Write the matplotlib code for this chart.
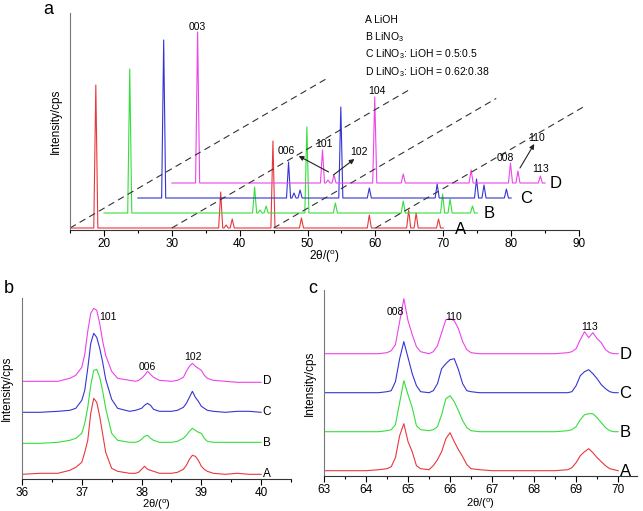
import numpy as np
import matplotlib
matplotlib.use('Agg')
import matplotlib.pyplot as plt
from matplotlib.ticker import MultipleLocator

plt.rcParams['font.family'] = ['Liberation Sans', 'DejaVu Sans']
plt.rcParams['mathtext.fontset'] = 'custom'
plt.rcParams['mathtext.rm'] = 'Liberation Sans'
plt.rcParams['mathtext.it'] = 'Liberation Sans:italic'

SAMPLES = ['A', 'B', 'C', 'D']
COLORS = ['#e8383d', '#36de3c', '#3535d4', '#ec44ec']
LEGEND = ['A LiOH', 'B LiNO$_3$', 'C LiNO$_3$: LiOH = 0.5:0.5',
          'D LiNO$_3$: LiOH = 0.62:0.38']
XLABEL = r'2θ/($^{\mathrm{o}}$)'

# (a) full patterns 15-70 deg, peaks as (2theta, height)
FULL_RANGE = (15, 70)
PEAK_POS = [18.8, 37.2, 38.0, 38.9, 44.9, 49.1, 59.1, 64.9, 66.0, 69.3]
PEAK_H = [
    [143, 36, 3, 9, 87, 10, 13, 18, 15, 9],   # A
    [144, 26, 3, 7, 86, 10, 12, 19, 14, 7],   # B
    [158, 36, 5, 8, 91, 10, 14, 19, 13, 9],   # C
    [151, 33, 3, 8, 86, 9, 13, 20, 12, 7],    # D
]
# hkl labels on the top pattern: (text, x, y)
HKL_A = [('003', 33.7, 201), ('104', 60.2, 137), ('101', 52.4, 84),
         ('006', 46.9, 77), ('102', 57.5, 76), ('008', 79.2, 70),
         ('110', 83.8, 90), ('113', 84.4, 59)]
ARROWS_A = [((53.1, 56), (48.7, 72)), ((53.8, 53), (56.9, 69)),
            ((81.3, 60), (83.4, 84))]
LETTER_X_A = [72.6, 76.7, 82.2, 86.6]
GUIDE_FROM = [15, 30, 45, 60]
GUIDE_TO = [52.8, 65, 77.8, 91]
GUIDE_SLOPE = 3.95

# (b) zoom 36-40 deg
XB = [36.0, 36.3, 36.6, 36.8, 36.9, 37.0, 37.05, 37.1, 37.15, 37.2, 37.25,
      37.3, 37.35, 37.4, 37.5, 37.6, 37.8, 37.9, 37.95, 38.0, 38.05, 38.1,
      38.15, 38.2, 38.3, 38.5, 38.6, 38.7, 38.75, 38.8, 38.85, 38.9, 38.95,
      39.0, 39.05, 39.1, 39.2, 39.4, 39.6, 39.8, 40.0]
YB_A = [0, 1, 1, 4, 7, 12, 22, 34, 61, 76, 72, 58, 40, 22, 6, 3, 1, 1, 2, 5,
        8, 5, 4, 3, 1, 1, 2, 5, 9, 15, 19, 18, 14, 8, 5, 3, 1, 0, 1, 0, 0]
YB_B = [0, 0, 1, 3, 5, 10, 20, 36, 58, 73, 74, 66, 52, 35, 10, 3, 1, 1, 2, 4,
        7, 8, 5, 3, 1, 1, 2, 5, 8, 12, 15, 13, 11, 10, 5, 2, 1, 1, 1, 1, 1]
YB_C = [0, 0, 1, 2, 4, 12, 22, 44, 69, 79, 75, 64, 50, 33, 13, 4, 1, 2, 3, 4,
        7, 9, 7, 3, 1, 1, 2, 5, 9, 15, 21, 15, 11, 6, 4, 2, 1, 0, 1, 1, 0]
YB_D = [0, 0, 0, 3, 6, 14, 27, 50, 68, 73, 71, 58, 40, 26, 10, 3, 1, 0, 1, 3,
        6, 10, 7, 4, 1, 0, 1, 4, 10, 15, 18, 15, 13, 11, 6, 3, 1, 0, -1, -1, -1]
HKL_B = [('101', 37.44, 157), ('006', 38.09, 107), ('102', 38.86, 117)]

# (c) zoom 63-70 deg
XC = [63.0, 63.5, 64.0, 64.3, 64.5, 64.6, 64.7, 64.8, 64.9, 65.0, 65.1, 65.2,
      65.3, 65.5, 65.6, 65.7, 65.8, 65.9, 66.0, 66.1, 66.2, 66.3, 66.4, 66.5,
      66.7, 67.0, 67.5, 68.0, 68.5, 68.8, 68.9, 69.0, 69.1, 69.2, 69.3, 69.4,
      69.5, 69.6, 69.7, 69.8, 69.9, 70.0]
YC_A = [1, 1, 1, 2, 3, 5, 14, 36, 48, 30, 20, 6, 3, 2, 6, 12, 20, 33, 39, 30,
        22, 15, 7, 3, 2, 1, 1, 1, 1, 2, 4, 9, 16, 20, 23, 19, 14, 10, 6, 3, 2, 1]
YC_B = [1, 1, 1, 1, 2, 3, 8, 30, 52, 38, 25, 7, 3, 2, 3, 6, 18, 34, 37, 31,
        22, 12, 5, 2, 1, 1, 1, 1, 1, 2, 3, 6, 13, 18, 19, 19, 15, 10, 5, 2, 1, 1]
YC_C = [1, 1, 1, 1, 2, 3, 12, 35, 52, 36, 20, 8, 2, 1, 3, 10, 25, 30, 34, 35,
        24, 10, 3, 2, 1, 1, 1, 1, 1, 1, 2, 8, 18, 22, 24, 20, 15, 9, 5, 2, 1, 1]
YC_D = [1, 1, 1, 1, 2, 4, 10, 33, 56, 34, 20, 8, 3, 1, 3, 9, 22, 35, 36, 34,
        26, 13, 5, 2, 1, 1, 1, 1, 1, 2, 3, 6, 15, 23, 17, 22, 16, 12, 5, 2, 1, 1]
HKL_C = [('008', 64.69, 160), ('110', 66.08, 155), ('113', 69.32, 145)]


def style_axis(ax, major, minor):
    for s in ['top', 'right']:
        ax.spines[s].set_visible(False)
    ax.spines['left'].set_color('#777777')
    ax.spines['bottom'].set_color('#333333')
    ax.xaxis.set_major_locator(MultipleLocator(major))
    ax.xaxis.set_minor_locator(MultipleLocator(minor))
    ax.tick_params(axis='x', which='major', direction='out', length=4,
                   width=0.8, labelsize=8.5, pad=2)
    ax.tick_params(axis='x', which='minor', direction='out', length=2.5,
                   width=0.8)
    ax.tick_params(axis='y', left=False, labelleft=False)


def peak_profile(pos, heights, lo, hi, half=0.3):
    xs, ys = [lo], [0]
    for p, h in zip(pos, heights):
        xs += [p - half, p, p + half]
        ys += [0, h, 0]
    xs.append(hi)
    ys.append(0)
    return np.array(xs), np.array(ys)


fig = plt.figure(figsize=(6.43, 5.11), dpi=100)

# ---- panel a ----
ax = fig.add_axes([0.1089, 0.5499, 0.7916, 0.4247])
shift_x, shift_y = 5, 15
for i, (name, col, hts) in enumerate(zip(SAMPLES, COLORS, PEAK_H)):
    x, y = peak_profile(PEAK_POS, hts, *FULL_RANGE)
    ax.plot(x + shift_x * i, y + shift_y * i, color=col, lw=0.8)
    ax.text(LETTER_X_A[i], shift_y * i - 1, name,
            fontsize=12, ha='center', va='center')
for g0, g1 in zip(GUIDE_FROM, GUIDE_TO):
    ax.plot([g0, g1], [0, GUIDE_SLOPE * (g1 - g0)], color='#333333',
            lw=0.8, ls=(0, (6, 4)), clip_on=False)
for txt, x, y in HKL_A:
    ax.text(x, y, txt, fontsize=7.5, ha='center', va='center')
for tail, head in ARROWS_A:
    ax.annotate('', xy=head, xytext=tail,
                arrowprops=dict(arrowstyle='-|>', color='#222222', lw=0.8,
                                mutation_scale=7, shrinkA=0, shrinkB=0))
for k, line in enumerate(LEGEND):
    ax.text(58.4, 208 - 17.3 * k, line, fontsize=7.5, ha='left', va='center')
ax.set_xlim(15, 90)
ax.set_ylim(-2, 215)
style_axis(ax, 10, 5)
ax.set_xlabel(XLABEL, fontsize=8.5)
ax.set_ylabel('Intensity/cps', fontsize=8.5)
ax.xaxis.set_label_coords(0.5, -0.085)
ax.yaxis.set_label_coords(-0.016, 0.5)

# ---- panel b ----
axb = fig.add_axes([0.0342, 0.0626, 0.4184, 0.3542])
for i, (name, col, yy) in enumerate(zip(SAMPLES, COLORS,
                                         [YB_A, YB_B, YB_C, YB_D])):
    axb.plot(XB, np.array(yy) + 31 * i, color=col, lw=0.8)
    axb.text(40.1, 31 * i, name, fontsize=8.5, ha='center', va='center')
for txt, x, y in HKL_B:
    axb.text(x, y, txt, fontsize=7.5, ha='center', va='center')
axb.set_xlim(36, 40.5)
axb.set_ylim(-4.7, 176.3)
style_axis(axb, 1, 0.5)
axb.set_xlabel(XLABEL, fontsize=8)
axb.set_ylabel('Intensity/cps', fontsize=8.5)
axb.xaxis.set_label_coords(0.5, -0.1)
axb.yaxis.set_label_coords(-0.033, 0.5)

# ---- panel c ----
axc = fig.add_axes([0.5039, 0.0685, 0.4868, 0.364])
for i, (name, col, yy) in enumerate(zip(SAMPLES, COLORS,
                                         [YC_A, YC_B, YC_C, YC_D])):
    axc.plot(XC, np.array(yy) + 39 * i, color=col, lw=0.8)
    axc.text(70.17, 39 * i, name, fontsize=12, ha='center', va='center')
for txt, x, y in HKL_C:
    axc.text(x, y, txt, fontsize=7.5, ha='center', va='center')
axc.set_xlim(63, 70.45)
axc.set_ylim(-4.3, 181.7)
style_axis(axc, 1, 0.5)
axc.set_xlabel(XLABEL, fontsize=8)
axc.set_ylabel('Intensity/cps', fontsize=8.5)
axc.xaxis.set_label_coords(0.5, -0.113)
axc.yaxis.set_label_coords(-0.026, 0.5)

fig.text(0.067, 0.998, 'a', fontsize=13, va='top')
fig.text(0.006, 0.4266, 'b', fontsize=13, va='baseline')
fig.text(0.479, 0.4266, 'c', fontsize=13, va='baseline')

fig.savefig('out.png', dpi=100)
